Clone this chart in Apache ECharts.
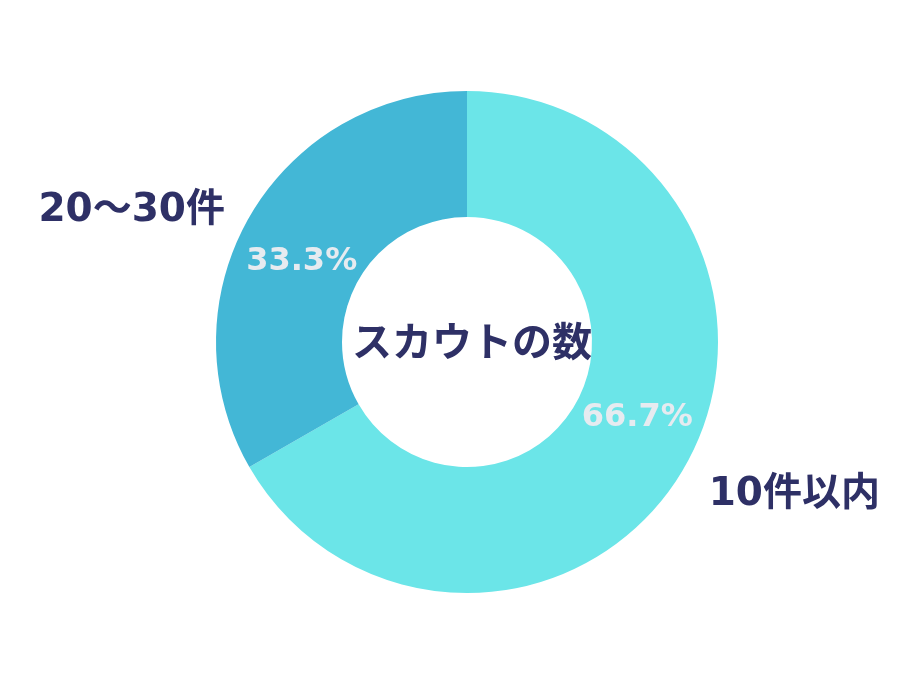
<!DOCTYPE html>
<html>
<head>
<meta charset="utf-8">
<script src="https://cdn.jsdelivr.net/npm/echarts@6/dist/echarts.min.js"></script>
<style>html,body{margin:0;padding:0;background:#fff}#c{width:900px;height:675px}</style>
</head>
<body>
<div id="c"></div>
<script>
const categories = ['10件以内', '20〜30件'];
const values = [66.7, 33.3];
const centerTitle = 'スカウトの数';

const colors = ['#6be5e8', '#43b7d6'];
const pctOffsets = [[5, -20], [0, 15]];
const nameOffsets = [[14, -28], [-22, 50]];
const FONT = '"DejaVu Sans", "Noto Sans CJK JP", sans-serif';
const CENTER = [467, 342];

const chart = echarts.init(document.getElementById('c'));
chart.setOption({
  animation: false,
  backgroundColor: '#ffffff',
  title: {
    text: centerTitle,
    left: CENTER[0], top: CENTER[1] - 1,
    textAlign: 'center', textVerticalAlign: 'middle',
    textStyle: { fontFamily: FONT, fontSize: 40, fontWeight: 'bold', color: '#2e3066' }
  },
  series: [
    {
      type: 'pie',
      center: CENTER,
      radius: [125, 251],
      startAngle: 90,
      clockwise: true,
      silent: true,
      emphasis: { disabled: true },
      label: {
        show: true, position: 'inside',
        formatter: p => p.percent.toFixed(1) + '%',
        fontFamily: FONT, fontSize: 32, fontWeight: 'bold', color: '#e6ebf0'
      },
      labelLine: { show: false },
      data: categories.map((n, i) => ({
        name: n, value: values[i],
        itemStyle: { color: colors[i] },
        label: { offset: pctOffsets[i] }
      }))
    },
    {
      type: 'pie',
      center: CENTER,
      radius: [300, 418],
      startAngle: 90,
      clockwise: true,
      silent: true,
      emphasis: { disabled: true },
      itemStyle: { color: 'rgba(0,0,0,0)' },
      label: {
        show: true, position: 'inside',
        formatter: '{b}',
        fontFamily: FONT, fontSize: 39, fontWeight: 'bold', color: '#2e3066'
      },
      labelLine: { show: false },
      data: categories.map((n, i) => ({
        name: n, value: values[i],
        label: { offset: nameOffsets[i] }
      }))
    }
  ]
});
</script>
</body>
</html>
